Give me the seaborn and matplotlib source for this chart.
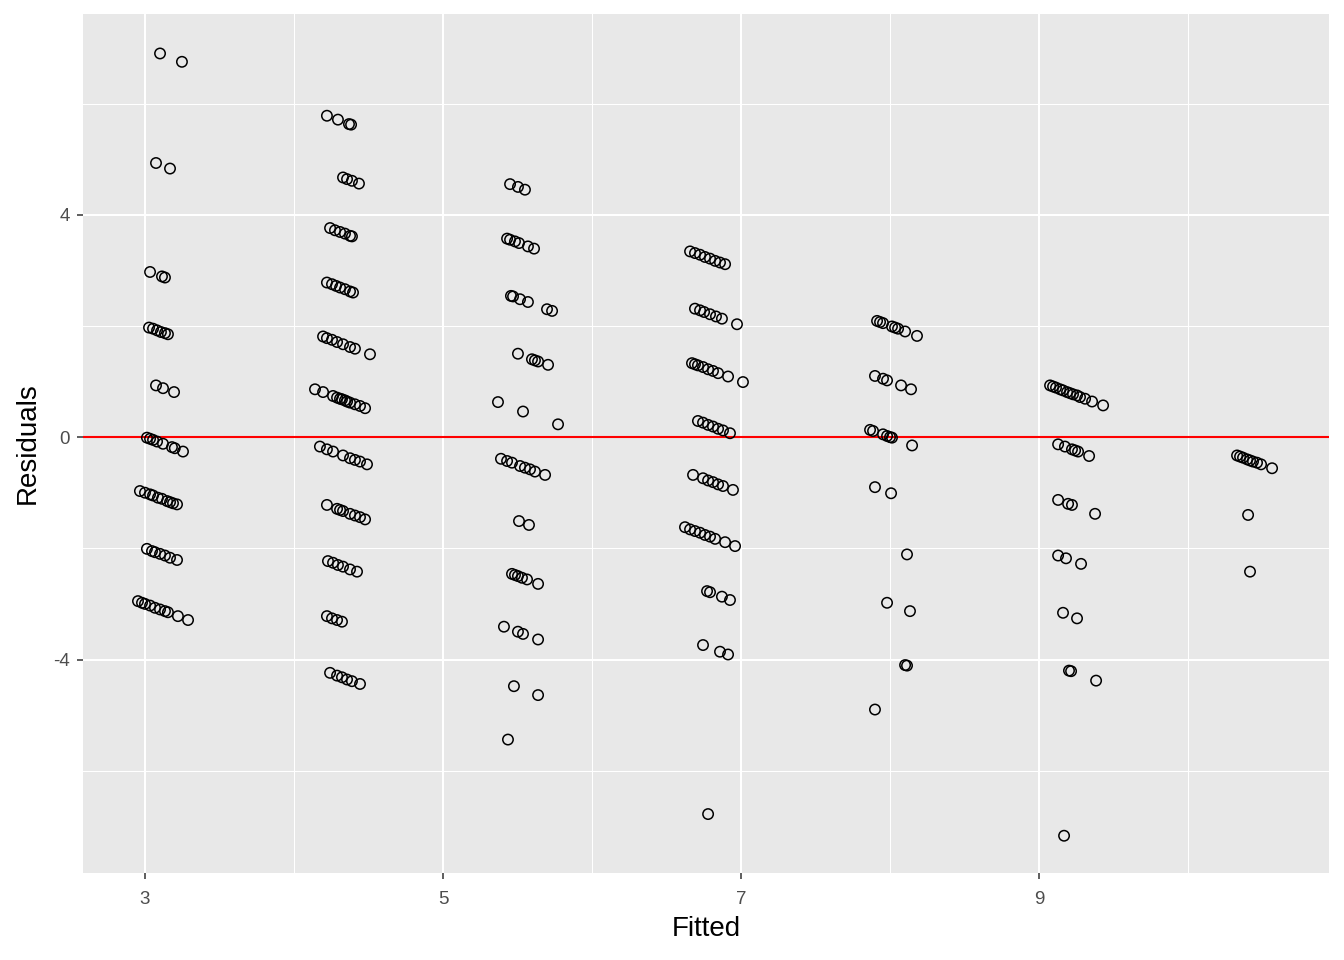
import numpy as np
import pandas as pd
import matplotlib
matplotlib.use("Agg")
import matplotlib.pyplot as plt
import seaborn as sns

# Column 1 (fitted ~3)
fit_1 = [3.101, 3.248, 3.074, 3.168, 3.034, 3.114, 3.134,
         3.027, 3.054, 3.081, 3.107, 3.134, 3.154,
         3.074, 3.121, 3.195,
         3.013, 3.034, 3.054, 3.081, 3.121, 3.181, 3.200, 3.255,
         2.966, 3.000, 3.034, 3.054, 3.087, 3.114, 3.148, 3.168, 3.188, 3.215,
         3.013, 3.047, 3.067, 3.101, 3.134, 3.168, 3.215,
         2.953, 2.980, 3.000, 3.034, 3.067, 3.101, 3.134, 3.154, 3.221, 3.289]
res_1 = [6.90, 6.75, 4.93, 4.83, 2.97, 2.89, 2.87,
         1.97, 1.95, 1.92, 1.89, 1.87, 1.85,
         0.93, 0.88, 0.81,
         -0.01, -0.03, -0.05, -0.08, -0.12, -0.18, -0.20, -0.26,
         -0.97, -1.00, -1.03, -1.05, -1.09, -1.11, -1.15, -1.17, -1.19, -1.21,
         -2.01, -2.05, -2.07, -2.10, -2.13, -2.17, -2.21,
         -2.95, -2.98, -3.00, -3.03, -3.07, -3.10, -3.13, -3.15, -3.22, -3.29]

# Column 2 (fitted ~4.3)
fit_2 = [4.221, 4.295, 4.369, 4.383,
         4.329, 4.356, 4.389, 4.436,
         4.242, 4.275, 4.309, 4.342, 4.376, 4.389,
         4.221, 4.255, 4.282, 4.309, 4.342, 4.376, 4.396,
         4.195, 4.221, 4.255, 4.289, 4.329, 4.376, 4.409, 4.510,
         4.141, 4.195, 4.262, 4.289, 4.309, 4.322, 4.342, 4.356, 4.376, 4.409, 4.443, 4.477,
         4.174, 4.221, 4.262, 4.329, 4.376, 4.409, 4.443, 4.490,
         4.221, 4.289, 4.309, 4.329, 4.376, 4.409, 4.443, 4.477,
         4.228, 4.262, 4.295, 4.329, 4.376, 4.423,
         4.221, 4.255, 4.289, 4.322,
         4.242, 4.289, 4.322, 4.356, 4.389, 4.443]
res_2 = [5.78, 5.71, 5.63, 5.62,
         4.67, 4.64, 4.61, 4.56,
         3.76, 3.72, 3.69, 3.66, 3.62, 3.61,
         2.78, 2.75, 2.72, 2.69, 2.66, 2.62, 2.60,
         1.81, 1.78, 1.75, 1.71, 1.67, 1.62, 1.59, 1.49,
         0.86, 0.81, 0.74, 0.71, 0.69, 0.68, 0.66, 0.64, 0.62, 0.59, 0.56, 0.52,
         -0.17, -0.22, -0.26, -0.33, -0.38, -0.41, -0.44, -0.49,
         -1.22, -1.29, -1.31, -1.33, -1.38, -1.41, -1.44, -1.48,
         -2.23, -2.26, -2.30, -2.33, -2.38, -2.42,
         -3.22, -3.26, -3.29, -3.32,
         -4.24, -4.29, -4.32, -4.36, -4.39, -4.44]

# Column 3 (fitted ~5.5)
fit_3 = [5.450, 5.503, 5.550,
         5.430, 5.450, 5.483, 5.510, 5.570, 5.611,
         5.456, 5.470, 5.517, 5.570, 5.698, 5.732,
         5.503, 5.597, 5.617, 5.638, 5.705,
         5.369, 5.537, 5.772,
         5.389, 5.430, 5.463, 5.517, 5.550, 5.584, 5.617, 5.685,
         5.510, 5.577,
         5.463, 5.483, 5.503, 5.530, 5.564, 5.638,
         5.409, 5.503, 5.537, 5.638,
         5.476, 5.638,
         5.436]
res_3 = [4.55, 4.50, 4.45,
         3.57, 3.55, 3.52, 3.49, 3.43, 3.39,
         2.54, 2.53, 2.48, 2.43, 2.30, 2.27,
         1.50, 1.40, 1.38, 1.36, 1.30,
         0.63, 0.46, 0.23,
         -0.39, -0.43, -0.46, -0.52, -0.55, -0.58, -0.62, -0.68,
         -1.51, -1.58,
         -2.46, -2.48, -2.50, -2.53, -2.56, -2.64,
         -3.41, -3.50, -3.54, -3.64,
         -4.48, -4.64,
         -5.44]

# Column 4 (fitted ~6.8)
fit_4 = [6.658, 6.691, 6.725, 6.758, 6.792, 6.826, 6.859, 6.893,
         6.691, 6.725, 6.752, 6.792, 6.832, 6.872, 6.973,
         6.671, 6.691, 6.711, 6.745, 6.779, 6.812, 6.846, 6.913, 7.013,
         6.711, 6.745, 6.779, 6.812, 6.846, 6.879, 6.926,
         6.678, 6.745, 6.779, 6.812, 6.846, 6.879, 6.946,
         6.624, 6.658, 6.691, 6.725, 6.758, 6.792, 6.826, 6.893, 6.960,
         6.772, 6.792, 6.872, 6.926,
         6.745, 6.859, 6.913,
         6.779]
res_4 = [3.34, 3.31, 3.28, 3.24, 3.21, 3.17, 3.14, 3.11,
         2.31, 2.28, 2.25, 2.21, 2.17, 2.13, 2.03,
         1.33, 1.31, 1.29, 1.26, 1.22, 1.19, 1.15, 1.09, 0.99,
         0.29, 0.26, 0.22, 0.19, 0.15, 0.12, 0.07,
         -0.68, -0.74, -0.78, -0.81, -0.85, -0.88, -0.95,
         -1.62, -1.66, -1.69, -1.72, -1.76, -1.79, -1.83, -1.89, -1.96,
         -2.77, -2.79, -2.87, -2.93,
         -3.74, -3.86, -3.91,
         -6.78]

# Column 5 (fitted ~8)
fit_5 = [7.913, 7.933, 7.953, 8.013, 8.034, 8.054, 8.101, 8.181,
         7.899, 7.953, 7.980, 8.074, 8.141,
         7.866, 7.886, 7.953, 7.980, 8.000, 8.013, 8.148,
         7.899, 8.007,
         8.114,
         7.980, 8.134,
         8.101, 8.114,
         7.899]
res_5 = [2.09, 2.07, 2.05, 1.99, 1.97, 1.95, 1.90, 1.82,
         1.10, 1.05, 1.02, 0.93, 0.86,
         0.13, 0.11, 0.05, 0.02, 0.00, -0.01, -0.15,
         -0.90, -1.01,
         -2.11,
         -2.98, -3.13,
         -4.10, -4.11,
         -4.90]

# Column 6 (fitted ~9.2)
fit_6 = [9.074, 9.094, 9.114, 9.141, 9.161, 9.188, 9.208, 9.228, 9.255, 9.275, 9.309, 9.356, 9.430,
         9.128, 9.174, 9.221, 9.242, 9.262, 9.336,
         9.128, 9.195, 9.221, 9.376,
         9.128, 9.181, 9.282,
         9.161, 9.255,
         9.201, 9.215, 9.383,
         9.168]
res_6 = [0.93, 0.91, 0.89, 0.86, 0.84, 0.81, 0.79, 0.77, 0.75, 0.72, 0.69, 0.64, 0.57,
         -0.13, -0.17, -0.22, -0.24, -0.26, -0.34,
         -1.13, -1.20, -1.22, -1.38,
         -2.13, -2.18, -2.28,
         -3.16, -3.26,
         -4.20, -4.21, -4.38,
         -7.17]

# Column 7 (fitted ~10.4)
fit_7 = [10.329, 10.349, 10.369, 10.396, 10.416, 10.436, 10.463, 10.490, 10.564,
         10.403, 10.416]
res_7 = [-0.33, -0.35, -0.37, -0.40, -0.42, -0.44, -0.46, -0.49, -0.56,
         -1.40, -2.42]

x_ticks = [3, 5, 7, 9]
y_ticks = [-4, 0, 4]

fitted = fit_1 + fit_2 + fit_3 + fit_4 + fit_5 + fit_6 + fit_7
resid = res_1 + res_2 + res_3 + res_4 + res_5 + res_6 + res_7
df = pd.DataFrame({"Fitted": fitted, "Residuals": resid})

plt.rcParams["font.family"] = ["Liberation Sans", "DejaVu Sans"]
plt.rcParams["axes.unicode_minus"] = False

fig = plt.figure(figsize=(13.44, 9.6), dpi=100)
ax = fig.add_axes([83/1344, 87/960, (1329-83)/1344, (873-14)/960])
ax.set_facecolor("#E8E8E8")
for s in ax.spines.values():
    s.set_visible(False)

ax.set_xlim(2.584, 10.946)
ax.set_ylim(-7.84, 7.61)
ax.set_xticks(x_ticks)
ax.set_yticks(y_ticks)
ax.set_xticks([4, 6, 8, 10], minor=True)
ax.set_yticks([-6, -2, 2, 6], minor=True)
ax.grid(which="major", color="white", linewidth=1.5)
ax.grid(which="minor", color="white", linewidth=0.75)
ax.set_axisbelow(True)
ax.tick_params(which="major", length=4, width=1.1, color="#333333",
               labelsize=13.5, labelcolor="#4D4D4D")
ax.tick_params(axis="x", which="major", pad=9)
ax.tick_params(axis="y", which="major", pad=5.5)
ax.tick_params(which="minor", length=0)

sns.scatterplot(data=df, x="Fitted", y="Residuals", ax=ax,
                facecolor="none", edgecolor="black", linewidth=1.1,
                s=56, marker="o", zorder=3)
ax.axhline(0, color="red", linewidth=1.5, zorder=2)

ax.set_xlabel("Fitted", fontsize=20, color="black", labelpad=6)
ax.set_ylabel("Residuals", fontsize=20, color="black", labelpad=9)

fig.savefig("out.png", dpi=100)
